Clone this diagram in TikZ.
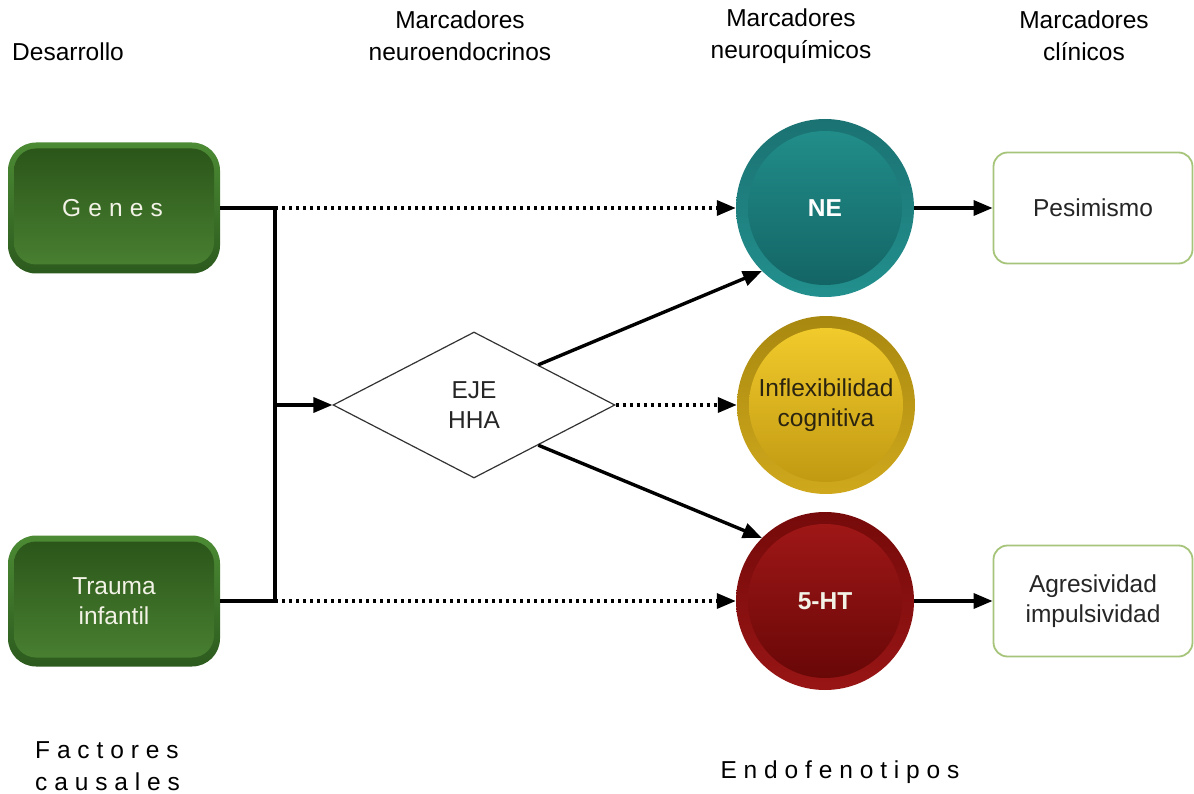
\documentclass[tikz,border=0pt]{standalone}
\usepackage{fontspec}
\setmainfont{Liberation Sans}
\usetikzlibrary{shapes.geometric,arrows.meta}

% palette
\definecolor{rimTop}{HTML}{4C8B34}
\definecolor{rimBot}{HTML}{2C5A1E}
\definecolor{grTop}{HTML}{2A5419}
\definecolor{grBot}{HTML}{4A8232}
\definecolor{cream}{HTML}{F2F2E6}
\definecolor{neRimTop}{HTML}{1B7272}
\definecolor{neRimBot}{HTML}{22908E}
\definecolor{neTop}{HTML}{22908C}
\definecolor{neBot}{HTML}{126262}
\definecolor{yeRimTop}{HTML}{A8880F}
\definecolor{yeRimBot}{HTML}{CFA81C}
\definecolor{yeTop}{HTML}{F5CE2E}
\definecolor{yeBot}{HTML}{BE9610}
\definecolor{rdRimTop}{HTML}{760A0A}
\definecolor{rdRimBot}{HTML}{981515}
\definecolor{rdTop}{HTML}{A31818}
\definecolor{rdBot}{HTML}{650606}
\definecolor{boxLine}{HTML}{A6C47A}
\definecolor{darkText}{HTML}{2B2410}
\definecolor{diaLine}{HTML}{333333}

\begin{document}
\begin{tikzpicture}[x=1pt,y=-1pt,
  font=\fontsize{24.5}{30}\selectfont,
  heading/.style={font=\fontsize{24.5}{32}\selectfont, inner sep=0pt},
  factor/.style={rectangle, rounded corners=28pt, minimum width=212pt,
    minimum height=131pt, inner sep=0pt, align=center, text=cream,
    top color=rimTop, bottom color=rimBot,
    path picture={\shade[top color=grTop, bottom color=grBot, rounded corners=22pt]
      ([shift={(6pt,-6pt)}]path picture bounding box.north west) rectangle
      ([shift={(-6pt,9pt)}]path picture bounding box.south east);}},
  marker/.style={circle, minimum size=178pt, inner sep=0pt, align=center},
  ring/.style n args={4}{top color=#1, bottom color=#2,
    path picture={\shade[top color=#3, bottom color=#4]
      (path picture bounding box.center) circle (77pt);}},
  outcome/.style={rectangle, rounded corners=14pt, draw=boxLine, line width=1.8pt,
    fill=white, minimum width=199pt, minimum height=111pt, inner sep=0pt,
    align=center, text=black!85},
  link/.style={line width=3.4pt, black},
  dotline/.style={dash pattern=on 3.4pt off 3.6pt},
  tip/.style={-{Triangle[length=19pt,width=15pt]}}
]
\useasboundingbox (0,0) rectangle (1194,794);

% column headings
\node[heading, anchor=west] (hdev) at (12,52) {Desarrollo};
\node[heading, align=center] (hneu) at (460,36) {Marcadores\\neuroendocrinos};
\node[heading, align=center] (hqui) at (791,36) {Marcadores\\neuroquímicos};
\node[heading, align=center] (hcli) at (1084,36) {Marcadores\\clínicos};

% footer labels
\node[heading, anchor=west, align=left] (hfac) at (35,766)
  {\addfontfeature{LetterSpace=28}Factores\\\addfontfeature{LetterSpace=28}causales};
\node[heading] (hend) at (840,772) {\addfontfeature{LetterSpace=28}Endofenotipos};

% causal factors
\node[factor] (genes) at (114,208) {\hspace*{-3pt}\addfontfeature{LetterSpace=29}Genes};
\node[factor] (trauma) at (114,601) {Trauma\\infantil};

% HPA axis
\node[diamond, draw=diaLine, line width=1.2pt, minimum width=282pt,
  minimum height=146pt, inner sep=0pt, align=center, text=black!85]
  (eje) at (474,405) {EJE\\HHA};

% neurochemical markers
\node[marker, ring={neRimTop}{neRimBot}{neTop}{neBot}, text=white,
  font=\fontsize{24.5}{30}\selectfont\bfseries] (ne) at (825,208) {NE};
\node[marker, ring={yeRimTop}{yeRimBot}{yeTop}{yeBot}, text=darkText] (cog) at (826,405)
  {Inflexibilidad\\cognitiva};
\node[marker, ring={rdRimTop}{rdRimBot}{rdTop}{rdBot}, text=cream,
  font=\fontsize{24.5}{30}\selectfont\bfseries] (ht) at (825,601) {5-HT};

% clinical markers
\node[outcome] (pes) at (1093,208) {Pesimismo};
\node[outcome] (agr) at (1093,601) {Agresividad\\impulsividad};

% junction points
\coordinate (j1) at (275,208);
\coordinate (j2) at (275,601);
\coordinate (j3) at (275,405);

% connectors
\draw[link, line join=miter] (genes.east) -- (j1) -- (j2) -- (trauma.east);
\draw[link, dotline, tip] (j1) -- (ne.west);
\draw[link, dotline, tip] (j2) -- (ht.west);
\draw[link, tip] (j3) -- (eje.west);
\draw[link, tip] (eje.32) -- (ne.225);
\draw[link, tip] (eje.-32) -- (ht.135);
\draw[link, dotline, tip] (eje.east) -- (cog.west);
\draw[link, tip] (ne.east) -- (pes.west);
\draw[link, tip] (ht.east) -- (agr.west);
\end{tikzpicture}
\end{document}
